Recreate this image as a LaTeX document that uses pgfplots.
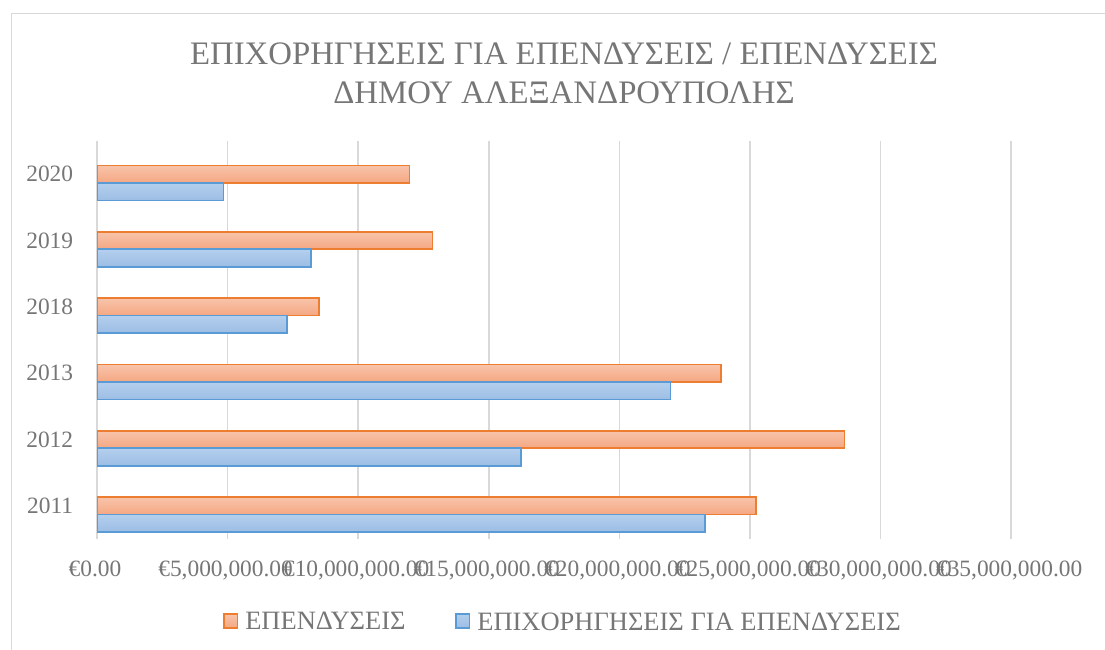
\documentclass[border=0pt]{standalone}
\usepackage{fontspec}
\setmainfont{Liberation Serif}
\usepackage{pgfplots}
\pgfplotsset{compat=1.18}
\definecolor{txt}{HTML}{767676}
\definecolor{gridc}{HTML}{D9D9D9}
\definecolor{orline}{HTML}{ED7D31}
\definecolor{ortop}{HTML}{F8C4AB}
\definecolor{orbot}{HTML}{F4A782}
\definecolor{blline}{HTML}{5B9BD5}
\definecolor{bltop}{HTML}{B4CFEE}
\definecolor{blbot}{HTML}{9CBDE4}

\begin{document}
\begin{tikzpicture}[x=1bp,y=1bp]
\path[use as bounding box] (0,0) rectangle (1105,650);
\draw[gridc, line width=1.5bp] (11.5,0) -- (11.5,636.5) -- (1105,636.5);
\node[text=txt, font=\fontsize{32.8bp}{38bp}\selectfont, anchor=base, inner sep=0pt] at (564,585.5) {ΕΠΙΧΟΡΗΓΗΣΕΙΣ ΓΙΑ ΕΠΕΝΔΥΣΕΙΣ / ΕΠΕΝΔΥΣΕΙΣ};
\node[text=txt, font=\fontsize{32.8bp}{38bp}\selectfont, anchor=base, inner sep=0pt] at (564,546.8) {ΔΗΜΟΥ ΑΛΕΞΑΝΔΡΟΥΠΟΛΗΣ};
\begin{axis}[
  at={(97bp,111bp)}, anchor=south west,
  scale only axis, width=914.2bp, height=398bp,
  xmin=0, xmax=35000000, ymin=-0.5, ymax=5.5,
  scaled x ticks=false,
  xtick={0,5000000,10000000,15000000,20000000,25000000,30000000,35000000},
  xticklabels={{€0.00},{€5,000,000.00},{€10,000,000.00},{€15,000,000.00},{€20,000,000.00},{€25,000,000.00},{€30,000,000.00},{€35,000,000.00}},
  ytick={0,1,2,3,4,5},
  yticklabels={2011,2012,2013,2018,2019,2020},
  xmajorgrids, ymajorgrids=false,
  major grid style={gridc, line width=1.6bp},
  axis line style={draw=none},
  major tick length=0pt,
  ticklabel style={font=\fontsize{23.4bp}{28bp}\selectfont, text=txt},
  xticklabel style={anchor=base, inner sep=0pt, yshift=-37.2bp, xshift=-2bp},
  yticklabel style={anchor=east, inner sep=0pt, xshift=-23.7bp},
  xbar, bar width=17.5bp,
  legend columns=2,
  legend style={at={(axis description cs:0.5098,0)}, anchor=center, yshift=-83bp,
    draw=none, fill=none, inner sep=0pt, cells={inner sep=0pt},
    font=\fontsize{26.5bp}{31bp}\selectfont, text=txt,
    /tikz/every odd column/.append style={column sep=5bp},
    /tikz/every even column/.append style={column sep=48bp}},
  legend image code/.code={\draw[#1, line width=1.6bp] (0.75bp,-5.9bp) rectangle (14bp,8.1bp);},
  inv/.style={draw=orline, line width=1.6bp, top color=ortop, bottom color=orbot, bar shift=0bp},
  grn/.style={draw=blline, line width=1.6bp, top color=bltop, bottom color=blbot, bar shift=-17.5bp},
]
\addplot[inv] coordinates {(25240000,0)};
\addlegendentry{ΕΠΕΝΔΥΣΕΙΣ}
\addplot[grn] coordinates {(23270000,0)};
\addlegendentry{ΕΠΙΧΟΡΗΓΗΣΕΙΣ ΓΙΑ ΕΠΕΝΔΥΣΕΙΣ}
\addplot[inv, forget plot] coordinates {(28610000,1)};
\addplot[grn, forget plot] coordinates {(16230000,1)};
\addplot[inv, forget plot] coordinates {(23880000,2)};
\addplot[grn, forget plot] coordinates {(21960000,2)};
\addplot[inv, forget plot] coordinates {(8500000,3)};
\addplot[grn, forget plot] coordinates {(7270000,3)};
\addplot[inv, forget plot] coordinates {(12840000,4)};
\addplot[grn, forget plot] coordinates {(8190000,4)};
\addplot[inv, forget plot] coordinates {(11960000,5)};
\addplot[grn, forget plot] coordinates {(4840000,5)};
\end{axis}
\end{tikzpicture}
\end{document}
